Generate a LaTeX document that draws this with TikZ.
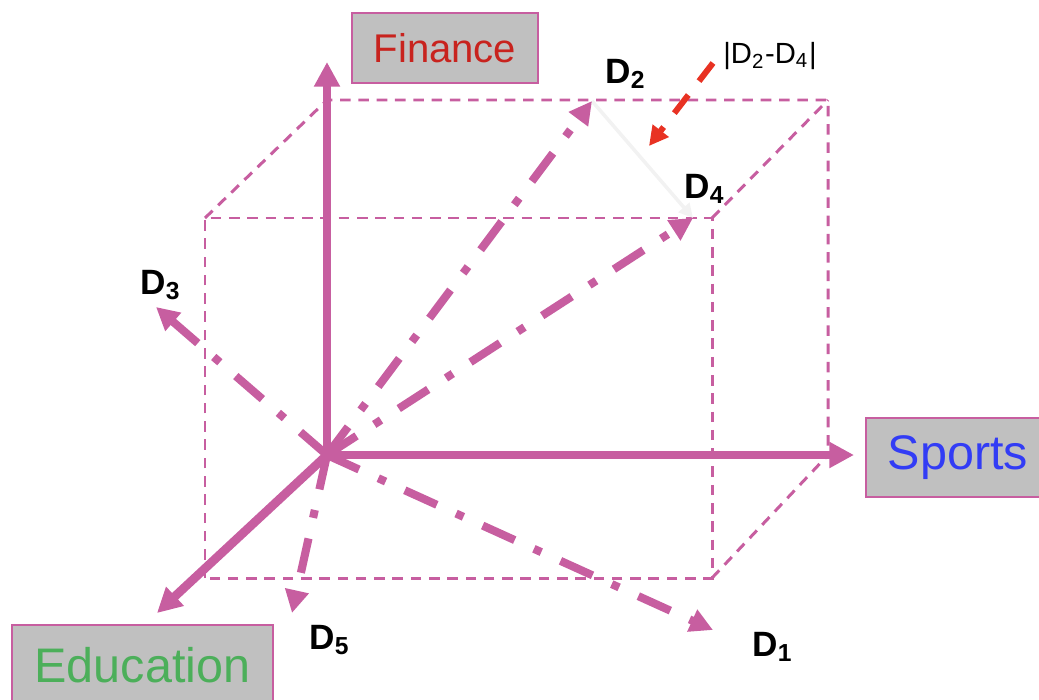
\documentclass[tikz,border=0pt]{standalone}
\usepackage{fontspec}
\setmainfont{Liberation Sans}
\usetikzlibrary{arrows.meta}
\definecolor{vecpink}{RGB}{199,94,160}
\definecolor{finred}{RGB}{200,35,30}
\definecolor{sportblue}{RGB}{50,60,245}
\definecolor{edugreen}{RGB}{76,175,90}
\definecolor{boxgray}{RGB}{192,192,192}
\definecolor{diffred}{RGB}{232,50,35}

\begin{document}
\begin{tikzpicture}[x=0.01cm, y=-0.01cm,
				axisbox/.style={draw=vecpink, line width=0.8pt, fill=boxgray, inner sep=0pt},
				axisline/.style={vecpink, line width=2.5pt, -{Triangle[length=7pt, width=7pt]}},
				vecline/.style={vecpink, line width=2.3pt, dash pattern=on 10pt off 6pt on 2.3pt off 6pt, -{Triangle[length=6.5pt, width=6.5pt]}},
				cubeline/.style={vecpink, line width=0.85pt, dash pattern=on 3pt off 2.2pt},
				veclabel/.style={inner sep=0pt, font=\fontsize{10}{12}\selectfont\bfseries}
			]
			\useasboundingbox (0,0) rectangle (1039,700);

			% Axis boxes
			\node[axisbox, minimum width=1.86cm, minimum height=0.70cm, text=finred, font=\fontsize{11.4}{13}\selectfont] (finance) at (445,48) {Finance};
			\node[axisbox, minimum width=1.84cm, minimum height=0.79cm, text=sportblue, font=\fontsize{13.8}{16}\selectfont] (sports) at (958,457.5) {Sports};
			\node[axisbox, minimum width=2.61cm, minimum height=0.80cm, text=edugreen, font=\fontsize{13.8}{16}\selectfont] (education) at (142.5,665) {Education};

			% Points
			\coordinate (O) at (327,455);
			\coordinate (finTip) at (327,62);
			\coordinate (sportTip) at (854,455);
			\coordinate (eduTip) at (157,613);
			\coordinate (ftl) at (205,218);
			\coordinate (ftr) at (712,218);
			\coordinate (fbr) at (712,578);
			\coordinate (fbl) at (205,578);
			\coordinate (btl) at (327,100);
			\coordinate (btr) at (828,100);
			\coordinate (bbr) at (828,455);
			\coordinate (d1Tip) at (713,630);
			\coordinate (d2Tip) at (592,101);
			\coordinate (d3Tip) at (156,307);
			\coordinate (d4Tip) at (693,218);
			\coordinate (d5Tip) at (292,613);
			\coordinate (diffStart) at (713,63);
			\coordinate (diffTip) at (649,146);

			% Dashed box
			\draw[cubeline] (fbl) -- (ftl) -- (ftr) -- (fbr) -- cycle;
			\draw[cubeline] (ftl) -- (btl) -- (btr) -- (bbr);
			\draw[cubeline] (ftr) -- (btr);
			\draw[cubeline] (fbr) -- (bbr);

			% Document vectors
			\draw[black!5, line width=1pt, -{Triangle[length=4pt, width=4pt]}] (d2Tip) -- (d4Tip);
			\draw[vecline] (O) -- (d1Tip);
			\draw[vecline] (O) -- (d2Tip);
			\draw[vecline] (O) -- (d3Tip);
			\draw[vecline] (O) -- (d4Tip);
			\draw[vecline] (O) -- (d5Tip);
			\node[veclabel] (d1) at (773,647) {D\textsubscript{1}};
			\node[veclabel] (d2) at (626,74) {D\textsubscript{2}};
			\node[veclabel] (d3) at (161,285) {D\textsubscript{3}};
			\node[veclabel] (d4) at (705,189) {D\textsubscript{4}};
			\node[veclabel] (d5) at (330,640) {D\textsubscript{5}};

			% Distance marker
			\node[inner sep=0pt, font=\fontsize{8.3}{10}\selectfont] (diff) at (770,56) {|D\textsubscript{2}-D\textsubscript{4}|};
			\draw[diffred, line width=1.7pt, dash pattern=on 6.5pt off 5pt, -{Triangle[length=5.5pt, width=5.5pt]}] (diffStart) -- (diffTip);

			% Axes
			\draw[axisline] (O) -- (finTip);
			\draw[axisline] (O) -- (sportTip);
			\draw[axisline] (O) -- (eduTip);
		\end{tikzpicture}
\end{document}
